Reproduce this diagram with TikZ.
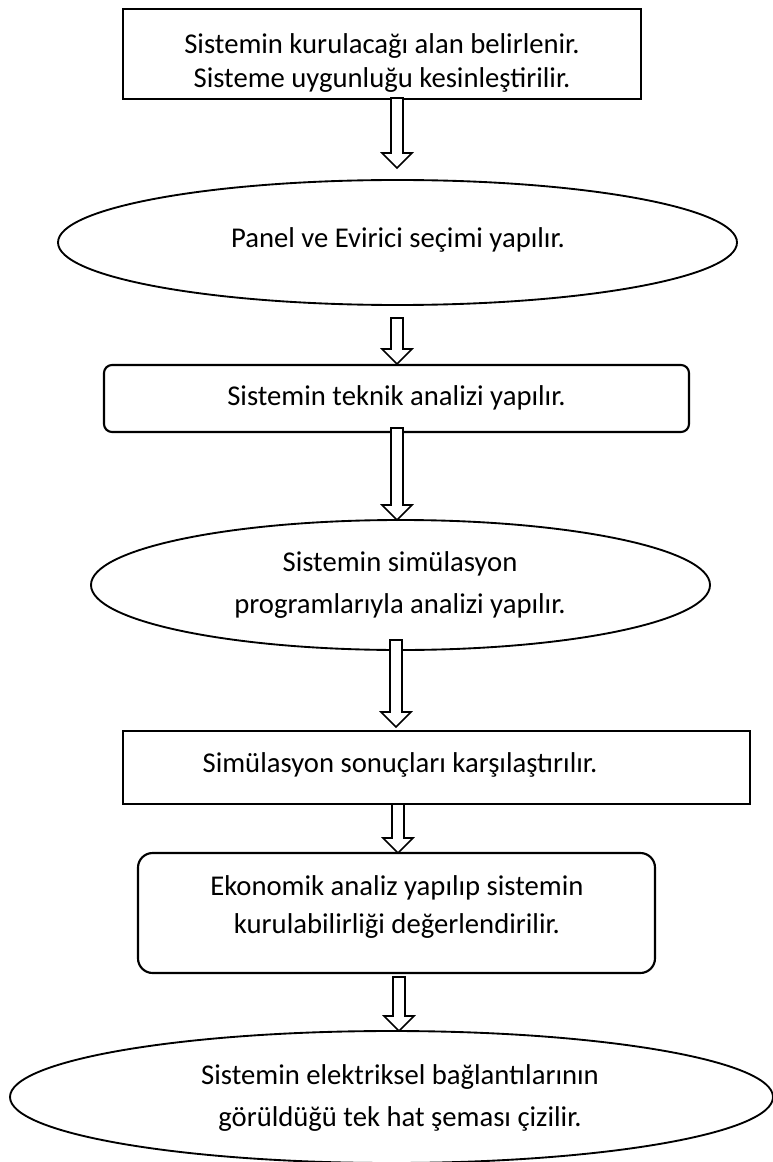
\documentclass[tikz,border=0pt]{standalone}
\usepackage{fontspec}
\setmainfont{Carlito}
\usetikzlibrary{shapes.geometric,calc}
\newcommand\blockarr[2]{\path[barrow] let \p1=(#1), \p2=(#2) in
  (\x1-4.5pt,\y1) -- (\x1-4.5pt,\y2+11.25pt) -- (\x1-11.25pt,\y2+11.25pt) -- (\x1,\y2)
  -- (\x1+11.25pt,\y2+11.25pt) -- (\x1+4.5pt,\y2+11.25pt) -- (\x1+4.5pt,\y1) -- cycle;}
\begin{document}
\begin{tikzpicture}[x=0.75pt,y=-0.75pt,
  every node/.style={font=\fontsize{21.5}{28.5}\selectfont, align=center, inner sep=0pt},
  tight/.style={font=\fontsize{21.5}{25}\selectfont},
  wide/.style={font=\fontsize{21.5}{31}\selectfont},
  sqbox/.style={draw, line width=1.6pt, rectangle},
  rbox/.style={draw, line width=1.6pt, rectangle, rounded corners=#1},
  ell/.style={draw, line width=1.4pt, ellipse},
  barrow/.style={draw, line width=1.2pt, fill=white, line join=miter}]
\useasboundingbox (0,0) rectangle (773,1162);

\node[sqbox, minimum width=388.5pt, minimum height=67.5pt] (b1) at (382,54) {};
\node[tight] (t1) at (382,63)
  {Sistemin kurulacağı alan belirlenir.\\Sisteme uygunluğu kesinleştirilir.};
\node[ell, minimum width=509.25pt, minimum height=93.75pt] (e1) at (397.5,242.5) {};
\node (t2) at (398,240) {Panel ve Evirici seçimi yapılır.};
\node[rbox=6pt, minimum width=438.75pt, minimum height=50.25pt] (b3) at (396.5,398.5) {};
\node (t3) at (396.5,398) {Sistemin teknik analizi yapılır.};
\node[ell, minimum width=464.25pt, minimum height=97.5pt] (e2) at (400.5,585) {};
\node[wide] (t4) at (400,585) {Sistemin simülasyon\\programlarıyla analizi yapılır.};
\node[sqbox, minimum width=470.25pt, minimum height=54.75pt] (b5) at (436.5,767.5) {};
\node (t5) at (400,765) {Simülasyon sonuçları karşılaştırılır.};
\node[rbox=11pt, minimum width=387.75pt, minimum height=90pt] (b6) at (396.5,913) {};
\node (t6) at (397,907) {Ekonomik analiz yapılıp sistemin\\kurulabilirliği değerlendirilir.};
\node[ell, minimum width=572.25pt, minimum height=99pt] (e3) at (391.5,1097) {};
\node[wide] (t7) at (400,1098) {Sistemin elektriksel bağlantılarının\\görüldüğü tek hat şeması çizilir.};

\coordinate (a1s) at (397,98);  \coordinate (a1e) at (397,168);
\coordinate (a2s) at (397,318); \coordinate (a2e) at (397,364);
\coordinate (a3s) at (397,428); \coordinate (a3e) at (397,520);
\coordinate (a4s) at (396,640); \coordinate (a4e) at (396,727);
\coordinate (a5s) at (398,804); \coordinate (a5e) at (398,853);
\coordinate (a6s) at (399,977); \coordinate (a6e) at (399,1031);

\blockarr{a1s}{a1e}
\blockarr{a2s}{a2e}
\blockarr{a3s}{a3e}
\blockarr{a4s}{a4e}
\blockarr{a5s}{a5e}
\blockarr{a6s}{a6e}
\end{tikzpicture}
\end{document}
